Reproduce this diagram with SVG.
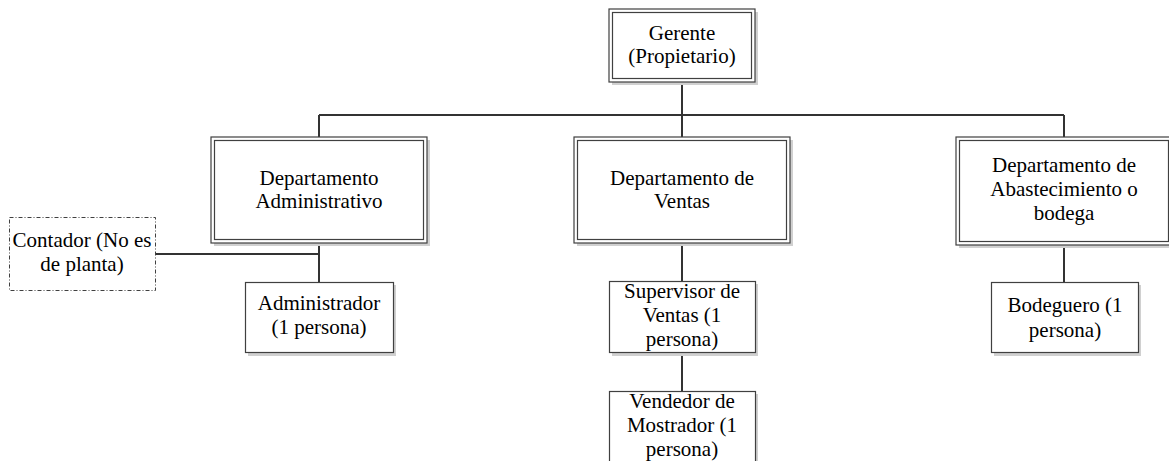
<svg xmlns="http://www.w3.org/2000/svg" width="1169" height="461" viewBox="0 0 1169 461">
<style>
text{font-family:"Liberation Serif","Times New Roman",serif;font-size:21px;fill:#000;text-anchor:middle}
.sh{fill:#d0d0d0;stroke:none}
.box{fill:#fff;stroke:#404040;stroke-width:1.2}
.in{fill:none;stroke:#404040;stroke-width:1.2}
.dash{fill:#fff;stroke:#404040;stroke-width:1;stroke-dasharray:4 2 1 2}
.conn{fill:none;stroke:#333;stroke-width:2}
</style>
<rect width="1169" height="461" fill="#fff"/>
<g id="connectors">
<path class="conn" d="M682 82V115M319 115H1064M319 115V137M682 115V137M1064 115V137"/>
<path class="conn" d="M319 243V282M155 254H319"/>
<path class="conn" d="M682 243V282M682 353V391"/>
<path class="conn" d="M1064 245V282"/>
</g>
<g id="gerente">
<rect class="sh" x="612" y="12" width="146" height="73"/>
<rect class="box" x="609" y="9" width="146" height="73"/>
<rect class="in" x="612.5" y="12.5" width="139" height="66"/>
<text x="682" y="40">Gerente</text>
<text x="682" y="63">(Propietario)</text>
</g>
<g id="dept-admin">
<rect class="sh" x="214" y="140" width="216" height="106"/>
<rect class="box" x="211" y="137" width="216" height="106"/>
<rect class="in" x="214.5" y="140.5" width="209" height="99"/>
<text x="319" y="185">Departamento</text>
<text x="319" y="208">Administrativo</text>
</g>
<g id="dept-ventas">
<rect class="sh" x="577" y="140" width="216" height="106"/>
<rect class="box" x="574" y="137" width="216" height="106"/>
<rect class="in" x="577.5" y="140.5" width="209" height="99"/>
<text x="682" y="185">Departamento de</text>
<text x="682" y="208">Ventas</text>
</g>
<g id="dept-abast">
<rect class="sh" x="959" y="140" width="216" height="108"/>
<rect class="box" x="956" y="137" width="216" height="108"/>
<rect class="in" x="959.5" y="140.5" width="209" height="101"/>
<text x="1064" y="172">Departamento de</text>
<text x="1064" y="196">Abastecimiento o</text>
<text x="1064" y="220">bodega</text>
</g>
<g id="contador">
<rect class="dash" x="9.5" y="217.5" width="146" height="73"/>
<text x="82" y="247">Contador (No es</text>
<text x="82" y="271">de planta)</text>
</g>
<g id="administrador">
<rect class="sh" x="248" y="285" width="148" height="71"/>
<rect class="box" x="245.5" y="282.5" width="148" height="70"/>
<text x="319" y="310">Administrador</text>
<text x="319" y="334">(1 persona)</text>
</g>
<g id="supervisor">
<rect class="sh" x="612" y="284" width="146" height="72"/>
<rect class="box" x="609.5" y="281.5" width="146" height="71"/>
<text x="682" y="298">Supervisor de</text>
<text x="682" y="322">Ventas (1</text>
<text x="682" y="346">persona)</text>
</g>
<g id="vendedor">
<rect class="sh" x="612" y="394" width="146" height="80"/>
<rect class="box" x="609.5" y="391.5" width="146" height="80"/>
<text x="682" y="408">Vendedor de</text>
<text x="682" y="432">Mostrador (1</text>
<text x="682" y="456">persona)</text>
</g>
<g id="bodeguero">
<rect class="sh" x="994" y="285" width="147" height="71"/>
<rect class="box" x="991.5" y="282.5" width="147" height="70"/>
<text x="1065" y="312">Bodeguero (1</text>
<text x="1065" y="337">persona)</text>
</g>
</svg>
